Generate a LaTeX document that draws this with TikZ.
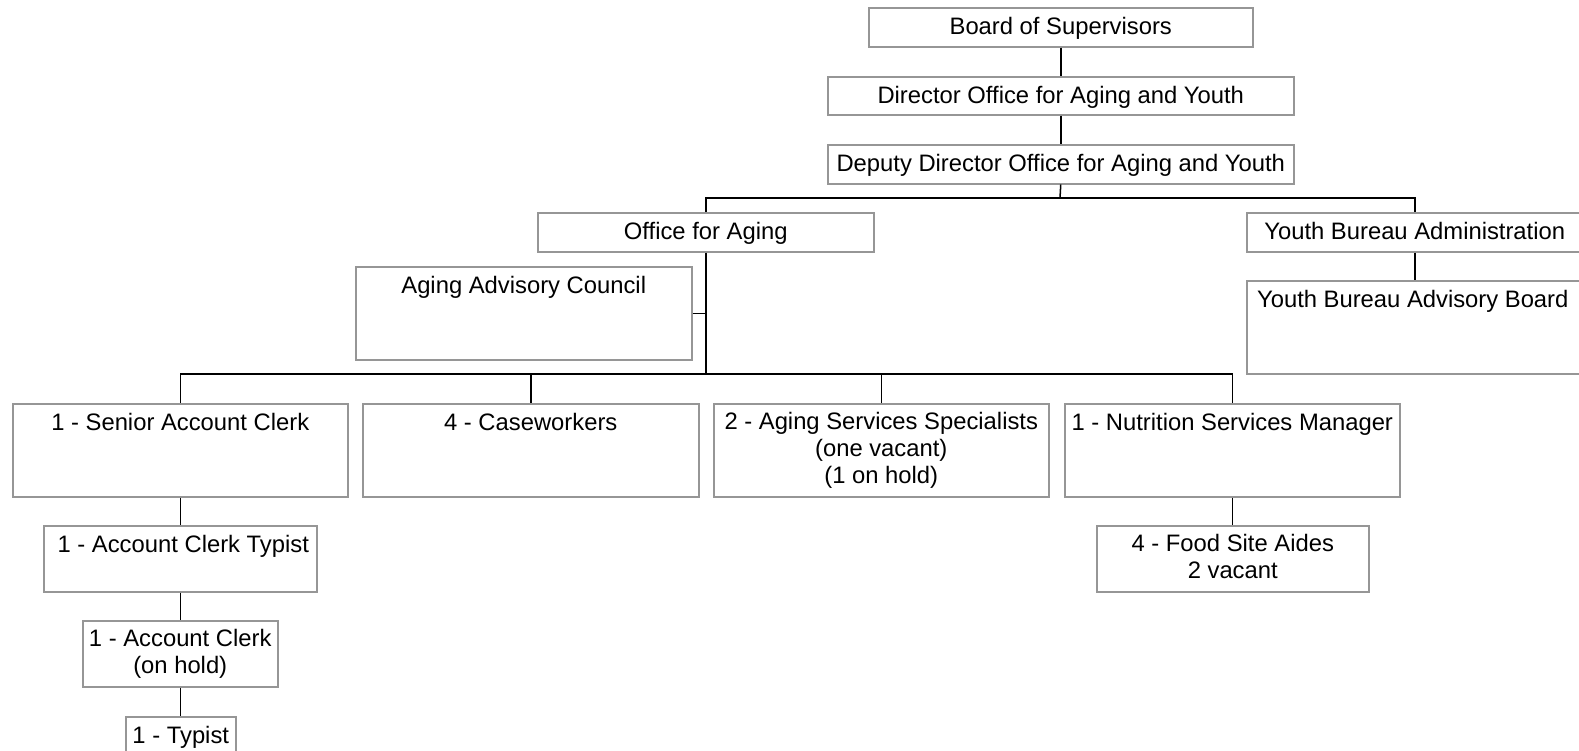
\documentclass[tikz,border=0pt]{standalone}
\usepackage{fontspec}
\setmainfont{Liberation Sans}
\usetikzlibrary{calc}
\definecolor{boxgray}{RGB}{150,150,150}
\tikzset{
  orgbox/.style={draw=boxgray, line width=1.5pt, fill=white, inner sep=0pt, anchor=north west},
  link/.style={draw=black, line width=1.5pt},
  lbl/.style={font=\fontsize{23.8}{27}\selectfont, align=center, inner sep=0pt, anchor=north, execute at begin node=\strut},
}
\begin{document}
\begin{tikzpicture}[x=1pt,y=-1pt]
\useasboundingbox (0,0) rectangle (1579,750);

% boxes
\node[orgbox, minimum width=384, minimum height=39] (bos) at (868,7) {};
\node[orgbox, minimum width=466, minimum height=38] (dir) at (827,76) {};
\node[orgbox, minimum width=466, minimum height=39] (dep) at (827,144) {};
\node[orgbox, minimum width=336, minimum height=39] (ofa) at (537,212) {};
\node[orgbox, minimum width=336, minimum height=39] (yba) at (1246,212) {};
\node[orgbox, minimum width=336, minimum height=93] (aac) at (355,266) {};
\node[orgbox, minimum width=336, minimum height=93] (yab) at (1246,280) {};
\node[orgbox, minimum width=335, minimum height=93] (sac) at (12,403) {};
\node[orgbox, minimum width=336, minimum height=93] (cw) at (362,403) {};
\node[orgbox, minimum width=335, minimum height=93] (ass) at (713,403) {};
\node[orgbox, minimum width=335, minimum height=93] (nsm) at (1064,403) {};
\node[orgbox, minimum width=273, minimum height=66] (act) at (43,525) {};
\node[orgbox, minimum width=195, minimum height=66] (ac) at (82,620) {};
\node[orgbox, minimum width=110, minimum height=50] (typ) at (125,716) {};
\node[orgbox, minimum width=272, minimum height=66] (fsa) at (1096,525) {};

% labels
\node[lbl] at ($(bos.north)+(0,8.6)$) {Board of Supervisors};
\node[lbl] at ($(dir.north)+(0,8.6)$) {Director Office for Aging and Youth};
\node[lbl] at ($(dep.north)+(0,8.6)$) {Deputy Director Office for Aging and Youth};
\node[lbl] at ($(ofa.north)+(0,8.6)$) {Office for Aging};
\node[lbl] at ($(yba.north)+(0,8.6)$) {Youth Bureau Administration};
\node[lbl] at ($(aac.north)+(0,8.6)$) {Aging Advisory Council};
\node[lbl] at ($(yab.north)+(-2,8.6)$) {Youth Bureau Advisory Board};
\node[lbl] at ($(sac.north)+(0,8.6)$) {1 - Senior Account Clerk};
\node[lbl] at ($(cw.north)+(0,8.6)$) {4 - Caseworkers};
\node[lbl] at ($(ass.north)+(0,9.1)$) {2 - Aging Services Specialists\\(one vacant)\\(1 on hold)};
\node[lbl] at ($(nsm.north)+(0,8.6)$) {1 - Nutrition Services Manager};
\node[lbl] at ($(act.north)+(3,8.6)$) {1 - Account Clerk Typist};
\node[lbl] at ($(ac.north)+(0,9.1)$) {1 - Account Clerk\\(on hold)};
\node[lbl] at ($(typ.north)+(0,8.6)$) {1 - Typist};
\node[lbl] at ($(fsa.north)+(0,8.6)$) {4 - Food Site Aides\\2 vacant};

% connectors
\coordinate (topbus) at (1060,198);
\coordinate (staffbus) at (706,374);
\draw[link] (bos.south) -- (dir.north);
\draw[link] (dir.south) -- (dep.north);
\draw[link] (dep.south) -- (topbus);
\draw[link] (ofa.north -| staffbus) |- (topbus) -| (yba.north);
\draw[link] (yba.south) -- (yab.north);
\draw[link] (ofa.south -| staffbus) -- (staffbus);
\draw[link] (aac.east) -- (aac.east -| staffbus);
\draw[link] (sac.north) |- (staffbus) -| (nsm.north);
\draw[link] (cw.north) -- (cw.north |- staffbus);
\draw[link] (ass.north) -- (ass.north |- staffbus);
\draw[link] (sac.south) -- (act.north -| sac.south);
\draw[link] (act.south -| sac.south) -- (ac.north -| sac.south);
\draw[link] (ac.south -| sac.south) -- (typ.north -| sac.south);
\draw[link] (nsm.south) -- (fsa.north -| nsm.south);
\end{tikzpicture}
\end{document}
